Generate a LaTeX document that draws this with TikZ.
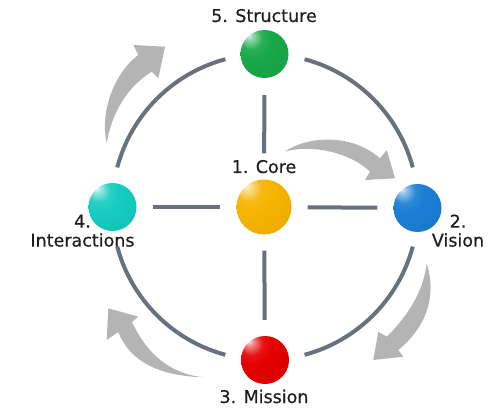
\documentclass[tikz,border=0pt]{standalone}
\usepackage{fontspec}
\setmainfont{DejaVu Sans}
\newfontfamily\lblfont[FakeBold=0.5]{DejaVu Sans}
\usetikzlibrary{calc}
\definecolor{ringgray}{HTML}{68717C}
\definecolor{arrgray}{HTML}{B4B4B4}
\definecolor{txt}{HTML}{1E1E1E}
\definecolor{cgreen}{HTML}{18A84A}
\definecolor{cyellow}{HTML}{F6B400}
\definecolor{cblue}{HTML}{1A7FD4}
\definecolor{ccyan}{HTML}{16CCC0}
\definecolor{cred}{HTML}{E40000}
\makeatletter
\pgfdeclareradialshading[tikz@ball]{softball}{\pgfqpoint{-17bp}{20bp}}{%
 color(0bp)=(tikz@ball!10!white);
 color(4bp)=(tikz@ball!45!white);
 color(12bp)=(tikz@ball!92!white);
 color(20bp)=(tikz@ball);
 color(42bp)=(tikz@ball!95!black);
 color(60bp)=(tikz@ball!80!black);
 color(78bp)=(tikz@ball!62!black)}
\makeatother
\tikzset{
  sphere/.style={circle, inner sep=0pt, minimum size=48pt, ball color=#1, shading=softball},
  spoke/.style={draw=ringgray, line width=4pt},
  garrow/.style={fill=arrgray, draw=none},
  lbl/.style={text=txt, inner sep=0pt, align=center, font=\lblfont\fontsize{17.5}{19}\selectfont}
}
\begin{document}
\begin{tikzpicture}[x=1pt,y=1pt]
\useasboundingbox (0,0) rectangle (500,412);
\coordinate (O) at (265,205);

% ring arcs
\draw[spoke] ($(O)+(75:153pt)$) arc[start angle=75, end angle=15, radius=153pt];
\draw[spoke] ($(O)+(105:153pt)$) arc[start angle=105, end angle=165, radius=153pt];
\draw[spoke] ($(O)+(195:153pt)$) arc[start angle=195, end angle=255, radius=153pt];
\draw[spoke] ($(O)+(285:153pt)$) arc[start angle=285, end angle=345, radius=153pt];

% spheres
\node[sphere=cyellow, minimum size=55pt] (C) at (264,205) {};
\node[sphere=cgreen] (S) at (264.5,358) {};
\node[sphere=cblue] (V) at (417.5,204) {};
\node[sphere=ccyan] (I) at (112.5,205) {};
\node[sphere=cred] (M) at (265,52) {};

% spokes
\draw[spoke, shorten <=17pt, shorten >=26pt] (S) -- (C);
\draw[spoke, shorten <=16pt, shorten >=16pt] (C) -- (M);
\draw[spoke, shorten <=16pt, shorten >=16pt] (C) -- (I);
\draw[spoke, shorten <=16pt, shorten >=16pt] (C) -- (V);

% curved gray arrows
\fill[garrow] (106.7,268.7) .. controls (100,297) and (112,337) .. (138.3,357)
  -- (133.3,367) -- (165,365.3) -- (158.3,333.7) -- (151.7,340.3)
  .. controls (130,327) and (112,302) .. (106.7,268.7) -- cycle;
\fill[garrow] (285,260.3) .. controls (305,275) and (350,280) .. (380,253.7)
  -- (386.7,262) -- (395,233.7) -- (365,232) -- (370,240.3)
  .. controls (350,260) and (310,268) .. (285,260.3) -- cycle;
\fill[garrow] (426.7,148.7) .. controls (424,125) and (412,100) .. (386.7,75.3)
  -- (378.3,80.3) -- (373.3,52) -- (403.3,55.3) -- (398.3,62)
  .. controls (423,82) and (438,112) .. (426.7,148.7) -- cycle;
\fill[garrow] (132,90) -- (138.3,95.3) -- (108.3,103.7) -- (106.7,72) -- (118.3,80)
  .. controls (130,50) and (160,36) .. (203.3,34.7)
  .. controls (175,38) and (150,52) .. (132,90) -- cycle;

% labels
\node[lbl, anchor=base] (tS) at (264,390) {5. Structure};
\node[lbl, anchor=base] (tC) at (264,239) {1. Core};
\node[lbl, anchor=south] (tI) at (82.5,165) {4.\\Interactions};
\node[lbl, anchor=south] (tV) at (458,165) {2.\\Vision};
\node[lbl, anchor=base] (tM) at (264,9) {3. Mission};
\end{tikzpicture}
\end{document}
